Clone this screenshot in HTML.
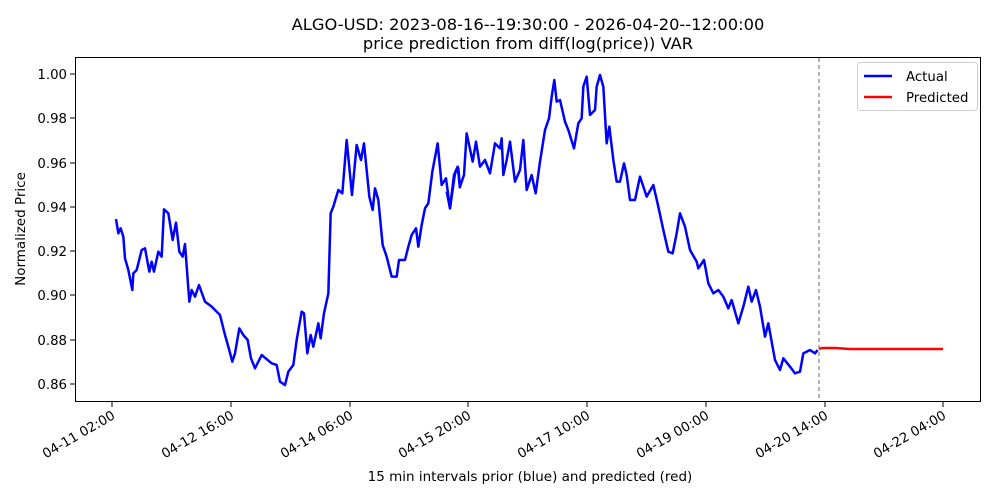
<!DOCTYPE html>
<html><head><meta charset="utf-8"><style>body{margin:0;background:#fff}svg{display:block;font-family:"DejaVu Sans","Liberation Sans",sans-serif}</style></head><body>
<svg width="1000" height="500" viewBox="0 0 1000 500">
<text x="528" y="30" font-size="16.3" text-anchor="middle">ALGO-USD: 2023-08-16--19:30:00 - 2026-04-20--12:00:00</text>
<text x="528" y="49" font-size="16.3" text-anchor="middle">price prediction from diff(log(price)) VAR</text>
<rect x="75.5" y="57.5" width="905" height="344" fill="none" stroke="#000" stroke-width="1"/>
<g font-size="13.3" text-anchor="end">
<line x1="70" x2="75" y1="74" y2="74" stroke="#000"/><text x="67" y="79">1.00</text>
<line x1="70" x2="75" y1="118" y2="118" stroke="#000"/><text x="67" y="123">0.98</text>
<line x1="70" x2="75" y1="163" y2="163" stroke="#000"/><text x="67" y="168">0.96</text>
<line x1="70" x2="75" y1="207" y2="207" stroke="#000"/><text x="67" y="212">0.94</text>
<line x1="70" x2="75" y1="251" y2="251" stroke="#000"/><text x="67" y="256">0.92</text>
<line x1="70" x2="75" y1="295" y2="295" stroke="#000"/><text x="67" y="300">0.90</text>
<line x1="70" x2="75" y1="340" y2="340" stroke="#000"/><text x="67" y="345">0.88</text>
<line x1="70" x2="75" y1="384" y2="384" stroke="#000"/><text x="67" y="389">0.86</text>
</g>
<text transform="translate(25,229) rotate(-90)" font-size="13.5" text-anchor="middle">Normalized Price</text>
<g font-size="13.3" text-anchor="end">
<g transform="translate(112,402)"><line y2="5" stroke="#000"/><text transform="translate(4,16) rotate(-30)">04-11 02:00</text></g>
<g transform="translate(231,402)"><line y2="5" stroke="#000"/><text transform="translate(4,16) rotate(-30)">04-12 16:00</text></g>
<g transform="translate(350,402)"><line y2="5" stroke="#000"/><text transform="translate(4,16) rotate(-30)">04-14 06:00</text></g>
<g transform="translate(468,402)"><line y2="5" stroke="#000"/><text transform="translate(4,16) rotate(-30)">04-15 20:00</text></g>
<g transform="translate(587,402)"><line y2="5" stroke="#000"/><text transform="translate(4,16) rotate(-30)">04-17 10:00</text></g>
<g transform="translate(706,402)"><line y2="5" stroke="#000"/><text transform="translate(4,16) rotate(-30)">04-19 00:00</text></g>
<g transform="translate(825,402)"><line y2="5" stroke="#000"/><text transform="translate(4,16) rotate(-30)">04-20 14:00</text></g>
<g transform="translate(943,402)"><line y2="5" stroke="#000"/><text transform="translate(4,16) rotate(-30)">04-22 04:00</text></g>
</g>
<text x="530" y="481" font-size="13.5" text-anchor="middle">15 min intervals prior (blue) and predicted (red)</text>
<line x1="819" x2="819" y1="58" y2="401" stroke="#666" stroke-width="1" stroke-dasharray="4,3"/>
<g transform="translate(100,60) scale(0.33333)" fill="none" stroke="#0000ff" stroke-width="7.5" stroke-linejoin="round">
<polyline points="48,477 55,520 62,505 70,530 75,595 85,630 97,690 100,640 110,630 125,570 135,565 148,635 155,605 162,635 175,575 185,590 192,448 205,460 218,540 228,488 238,575 248,590 255,552 268,725 275,690 285,710 297,675 315,725 335,740 345,750 360,765 375,825 385,860 397,905 405,880 418,805 430,825 443,840 453,895 465,925 485,885 515,910 530,915 540,965 555,975 565,935 580,915 590,840 605,755 612,760 622,880 632,825 640,860 655,790 662,835 672,760 685,700 692,460 700,440 715,390 727,400 740,240 756,405 770,255 783,300 792,250 808,410 818,450 825,385 835,420 848,555 860,590 875,650 890,650 897,600 915,600 925,560 935,525 948,505 955,560 965,495 975,445 985,430 997,335 1013,250 1025,375 1038,355 1050,445 1062,345 1073,320 1080,385"/>
</g>
<g transform="translate(450,60) scale(0.33333)" fill="none" stroke="#0000ff" stroke-width="7.5" stroke-linejoin="round">
<polyline points="-10,395 0,445 15,340 25,325 30,380 42,345 50,220 68,305 78,245 90,320 105,300 120,340 135,250 150,265 155,235 160,345 170,300 180,245 195,365 210,330 220,240 230,390 245,345 257,400 270,305 285,210 297,175 305,110 313,60 320,125 330,120 345,185 355,210 372,265 385,190 395,175 400,80 410,50 420,165 435,150 440,80 450,45 460,80 470,250 478,200 490,300 500,365 510,365 522,310 530,345 540,420 555,420 570,350 590,410 610,375 625,440 640,510 655,575 668,580 680,520 690,460 705,500 720,570 740,605 745,625 762,600 775,670 790,700 805,690 820,710 835,745 845,720 865,790 880,740 895,680 905,725 918,690 930,740 945,830 955,790 965,845 975,900 990,930 1000,895 1020,920 1035,940 1050,935 1060,880 1080,870 1095,880 1103,870"/>
</g>
<polyline points="819,349 822,348 835,348 850,349 943,349" fill="none" stroke="#ff0000" stroke-width="2.5"/>
<rect x="857.5" y="62.5" width="120" height="48" rx="3" fill="#fff" stroke="#ccc"/>
<line x1="864" x2="892" y1="76" y2="76" stroke="#0000ff" stroke-width="2.5"/>
<text x="906" y="81" font-size="13.3">Actual</text>
<line x1="864" x2="892" y1="97" y2="97" stroke="#ff0000" stroke-width="2.5"/>
<text x="906" y="102" font-size="13.3">Predicted</text>
</svg>
</body></html>
